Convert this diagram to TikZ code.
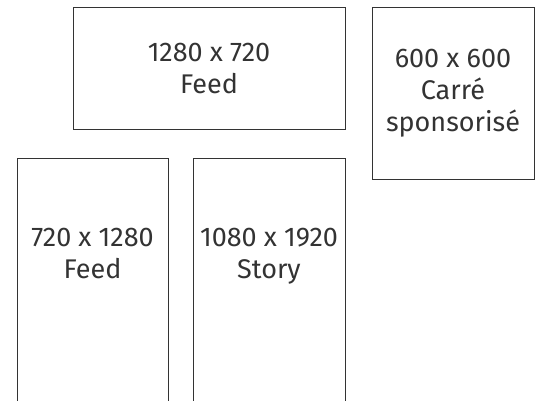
\documentclass[tikz,border=0pt]{standalone}
\usepackage{fontspec}
\setmainfont{Fira Sans}
\definecolor{ink}{HTML}{333333}
\begin{document}
\begin{tikzpicture}[x=1pt,y=-1pt,
  frame/.style={draw=ink,line width=1pt,rectangle,inner sep=0pt},
  lbl/.style={text=ink,align=center,font=\fontsize{27}{32}\selectfont,inner sep=0pt}]
\useasboundingbox (0,0) rectangle (536,400);
\clip (0,0) rectangle (536,400);
\node[frame,minimum width=272pt,minimum height=122pt] (feedh) at (209,68) {};
\node[frame,minimum width=162pt,minimum height=172pt] (carre) at (453,93) {};
\node[frame,minimum width=151pt,minimum height=262pt,anchor=north] (feedv) at (92.5,158) {};
\node[frame,minimum width=152pt,minimum height=262pt,anchor=north] (story) at (269,158) {};
\node[lbl] (tfeedh) at (feedh.center) {1280 x 720\\Feed};
\node[lbl] (tcarre) at (carre.center) {600 x 600\\Carré\\sponsorisé};
\node[lbl,anchor=base] (tfeedv) at (92.5,278) {720 x 1280\\Feed};
\node[lbl,anchor=base] (tstory) at (269,278) {1080 x 1920\\Story};
\end{tikzpicture}
\end{document}
